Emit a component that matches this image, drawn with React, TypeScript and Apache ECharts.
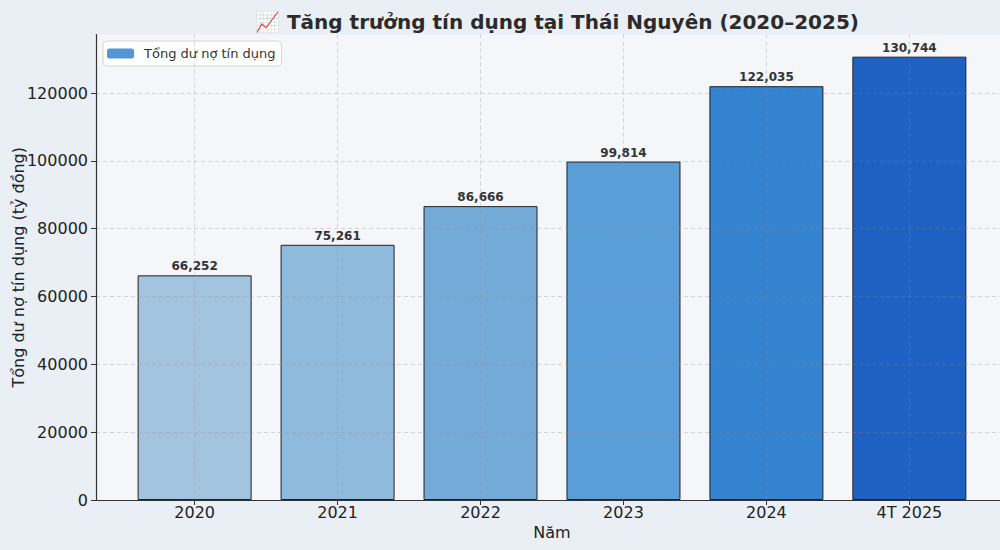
import * as echarts from "echarts";
import React, { useEffect, useRef } from "react";

const years = ["2020", "2021", "2022", "2023", "2024", "4T 2025"];
const creditTotals = [66252, 75261, 86666, 99814, 122035, 130744];
const yTicks = [0, 20000, 40000, 60000, 80000, 100000, 120000];
const barColors = ["#a3c4de", "#8fbadb", "#74aad8", "#5a9ed8", "#3483d0", "#1f61c2"];

const FONT = "DejaVu Sans";

const App: React.FC = () => {
  const chartRef = useRef<HTMLDivElement | null>(null);

  useEffect(() => {
    document.body.style.margin = "0";
    const chart = echarts.init(chartRef.current, null, { renderer: "svg" });
    const gridLine = { show: true, lineStyle: { color: "rgba(140,140,150,0.32)", type: [4, 3], width: 1 } };

    chart.setOption({
      animation: false,
      backgroundColor: "#eaeff6",
      textStyle: { fontFamily: FONT },
      title: {
        text: "📈 Tăng trưởng tín dụng tại Thái Nguyên (2020–2025)",
        left: 552,
        top: 7,
        textAlign: "center",
        textStyle: { fontFamily: FONT, fontSize: 20, fontWeight: "bold", color: "#2b2b2b" },
      },
      legend: {
        left: 103,
        top: 41,
        padding: [6, 6, 6, 4],
        itemWidth: 27,
        itemHeight: 10,
        itemGap: 8,
        backgroundColor: "#ffffff",
        borderColor: "#d6d6d6",
        borderWidth: 1,
        borderRadius: 4,
        textStyle: { fontFamily: FONT, fontSize: 13, color: "#333", padding: [0, 0, 0, 5] },
        data: [{ name: "Tổng dư nợ tín dụng", itemStyle: { color: "#5596d8", borderWidth: 0 } }],
      },
      grid: {
        left: 96,
        top: 34.5,
        width: 912,
        height: 465.5,
        containLabel: false,
        outerBoundsMode: "none",
        show: true,
        backgroundColor: "#f4f6fa",
        borderWidth: 0,
      },
      xAxis: {
        type: "value",
        min: -0.69,
        max: 5.69,
        z: 5,
        name: "Năm",
        nameLocation: "middle",
        nameGap: 24,
        nameMoveOverlap: false,
        nameTextStyle: { fontFamily: FONT, fontSize: 16, color: "#222" },
        axisLine: { show: true, onZero: false, lineStyle: { color: "#333", width: 1.2 } },
        axisTick: { show: true, length: 5, customValues: years.map((_, i) => i), lineStyle: { color: "#333" } },
        axisLabel: {
          customValues: years.map((_, i) => i),
          formatter: (v: number) => years[Math.round(v)] ?? "",
          fontFamily: FONT,
          fontSize: 16,
          color: "#222",
          margin: 4,
        },
        splitLine: gridLine,
      },
      yAxis: {
        type: "value",
        min: 0,
        max: 137281,
        z: 5,
        name: "Tổng dư nợ tín dụng (tỷ đồng)",
        nameLocation: "middle",
        nameGap: 70,
        nameMoveOverlap: false,
        nameTextStyle: { fontFamily: FONT, fontSize: 16, color: "#222" },
        axisLine: { show: true, onZero: false, lineStyle: { color: "#333", width: 1.2 } },
        axisTick: { show: true, length: 5, customValues: yTicks, lineStyle: { color: "#333" } },
        axisLabel: {
          customValues: yTicks,
          formatter: (v: number) => String(v),
          fontFamily: FONT,
          fontSize: 16,
          color: "#222",
          margin: 8,
        },
        splitLine: gridLine,
      },
      series: [
        {
          name: "Tổng dư nợ tín dụng",
          type: "bar",
          barWidth: 114,
          itemStyle: { color: "#5596d8", borderColor: "#222", borderWidth: 1 },
          label: {
            show: true,
            position: "top",
            distance: 3,
            fontFamily: FONT,
            fontSize: 12,
            fontWeight: "bold",
            color: "#333",
            formatter: (p: any) => p.value[1].toLocaleString("en-US"),
          },
          data: creditTotals.map((v, i) => ({
            value: [i, v],
            itemStyle: { color: barColors[i] },
          })),
        },
      ],
    });

    return () => {
      chart.dispose();
    };
  }, []);

  return <div ref={chartRef} style={{ width: "1000px", height: "550px" }}></div>;
};

export default App;
